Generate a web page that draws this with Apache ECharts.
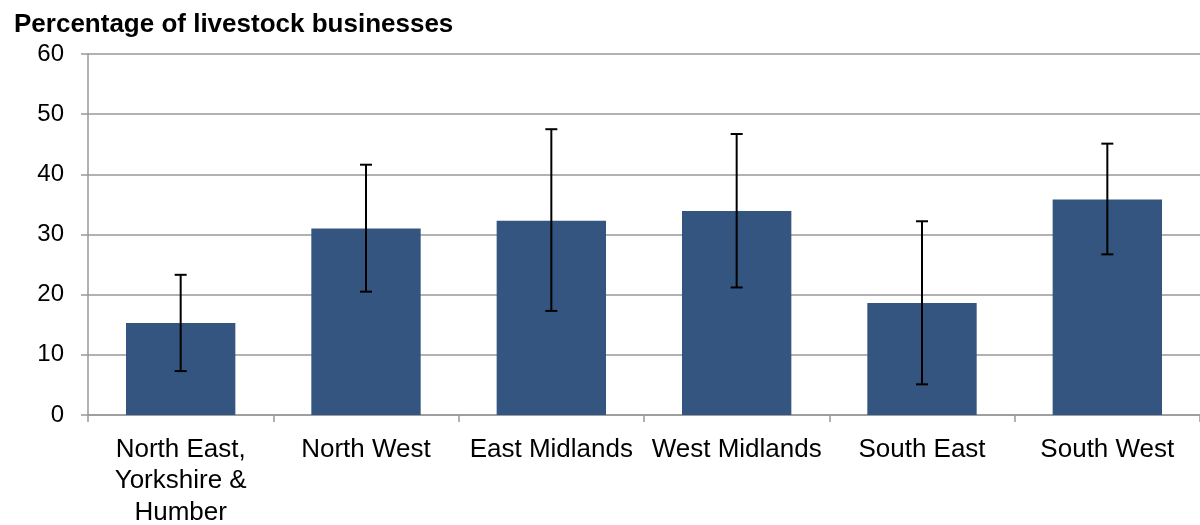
<!DOCTYPE html>
<html>
<head>
<meta charset="utf-8">
<script src="https://cdn.jsdelivr.net/npm/echarts@6/dist/echarts.min.js"></script>
<style>
html,body{margin:0;padding:0;background:#fff;}
#main{width:1200px;height:525px;}
</style>
</head>
<body>
<div id="main"></div>
<script>
var categories = ['North East,\nYorkshire &\nHumber', 'North West', 'East Midlands', 'West Midlands', 'South East', 'South West'];
var values = [15.3, 31.0, 32.3, 33.9, 18.6, 35.8];
var errLow = [7.3, 20.5, 17.3, 21.2, 5.1, 26.7];
var errHigh = [23.3, 41.6, 47.5, 46.7, 32.2, 45.1];
var yTicks = [0, 10, 20, 30, 40, 50, 60];

var errData = categories.map(function (c, i) { return [i, errLow[i], errHigh[i]]; });

var chart = echarts.init(document.getElementById('main'), null, {renderer: 'canvas'});
var font = '"Liberation Sans", Arial, sans-serif';
chart.setOption({
  animation: false,
  title: {
    text: 'Percentage of livestock businesses',
    left: 9, top: 7,
    textStyle: {fontFamily: font, fontWeight: 'bold', fontSize: 26, color: '#000'}
  },
  grid: {left: 88, right: 0, top: 54, bottom: 110, containLabel: false, outerBoundsMode: 'none'},
  xAxis: {
    type: 'category',
    data: categories,
    axisLine: {lineStyle: {color: '#999', width: 1.5}},
    axisTick: {show: true, length: 7, lineStyle: {color: '#999', width: 1.5}},
    axisLabel: {fontFamily: font, fontSize: 26, color: '#000', margin: 19, lineHeight: 31.5, interval: 0}
  },
  yAxis: {
    type: 'value',
    min: yTicks[0], max: yTicks[yTicks.length - 1], interval: 10,
    axisLine: {show: true, lineStyle: {color: '#999', width: 1.5}},
    axisTick: {show: true, length: 7, lineStyle: {color: '#999', width: 1.5}},
    splitLine: {lineStyle: {color: '#999', width: 1.5}},
    axisLabel: {fontFamily: font, fontSize: 24, color: '#000', margin: 24}
  },
  series: [{
    type: 'bar',
    data: values,
    barCategoryGap: '41%',
    itemStyle: {color: '#34557F'}
  }, {
    type: 'custom',
    data: errData,
    z: 10,
    renderItem: function (params, api) {
      var i = api.value(0);
      var lo = api.coord([i, api.value(1)]);
      var hi = api.coord([i, api.value(2)]);
      var hw = 6;
      var st = {stroke: '#000', lineWidth: 2};
      return {
        type: 'group',
        children: [
          {type: 'line', shape: {x1: lo[0], y1: lo[1], x2: hi[0], y2: hi[1]}, style: st},
          {type: 'line', shape: {x1: hi[0] - hw, y1: hi[1], x2: hi[0] + hw, y2: hi[1]}, style: st},
          {type: 'line', shape: {x1: lo[0] - hw, y1: lo[1], x2: lo[0] + hw, y2: lo[1]}, style: st}
        ]
      };
    }
  }]
});
</script>
</body>
</html>
